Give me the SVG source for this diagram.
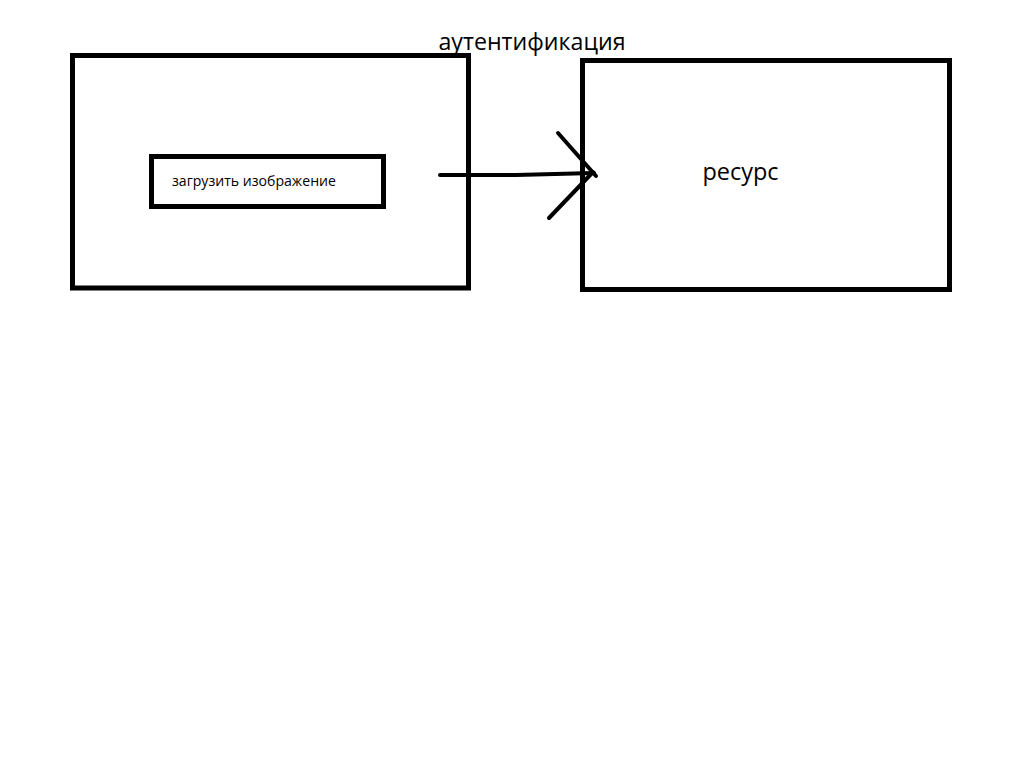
<svg xmlns="http://www.w3.org/2000/svg" width="1013" height="765" viewBox="0 0 1013 765">
  <style>
    .box { fill: none; stroke: #000; stroke-width: 5; }
    .line { fill: none; stroke: #000; stroke-width: 4; stroke-linecap: round; }
    .label { font-family: "Open Sans", "Liberation Sans", sans-serif; fill: #000; }
  </style>
  <rect width="1013" height="765" fill="#fff"/>
  <g id="client">
    <rect class="box" x="72.5" y="55.5" width="396" height="232.5"/>
    <text class="label" x="532" y="50" font-size="23.2" text-anchor="middle">аутентификация</text>
  </g>
  <g id="upload">
    <rect class="box" x="151.5" y="156.5" width="232" height="50"/>
    <text class="label" x="172" y="186" font-size="14.1">загрузить изображение</text>
  </g>
  <g id="resource">
    <rect class="box" x="582.5" y="60.5" width="367" height="229"/>
    <text class="label" x="740.5" y="180" font-size="23.5" text-anchor="middle">ресурс</text>
  </g>
  <g id="connectors">
    <path class="line" d="M440 175 L516 175 L594 173"/>
    <path class="line" d="M558 133 L596 176"/>
    <path class="line" d="M549 218 L593 172"/>
  </g>
</svg>
